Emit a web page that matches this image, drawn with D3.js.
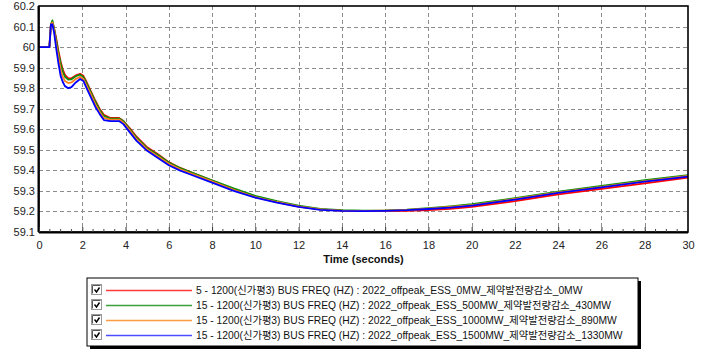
<!DOCTYPE html>
<html>
<head>
<meta charset="utf-8">
<script src="https://cdn.jsdelivr.net/npm/d3@7"></script>
<style>
  html, body { margin: 0; padding: 0; background: #fff; }
  svg { display: block; }
  text { font-family: "Liberation Sans", Arial, "Noto Sans CJK KR", sans-serif; }
</style>
</head>
<body>
<svg id="chart" width="706" height="352"></svg>
<script>
// Simulation time samples (seconds), shared by every run
const time = [0, 0.48, 0.5, 0.55, 0.62, 0.7, 0.8, 0.9, 1.0, 1.1, 1.2, 1.35, 1.5, 1.7, 1.9, 2.05,
  2.2, 2.4, 2.6, 2.8, 3.0, 3.3, 3.7, 3.9, 4.2, 4.5, 5.0, 5.5, 6.0, 6.5, 7, 8, 9, 10, 11, 12,
  13, 14, 15, 16, 17, 18, 19, 20, 22, 24, 26, 28, 30];

// Bus frequency (Hz) at bus 1200 for each ESS case
const freqEss0 = [60.0, 60.0, 60.03, 60.11, 60.12, 60.09, 60.04, 59.98, 59.93, 59.89, 59.865, 59.848,
  59.848, 59.862, 59.87, 59.86, 59.83, 59.785, 59.74, 59.70, 59.67, 59.655, 59.655, 59.64, 59.605,
  59.565, 59.512, 59.478, 59.44, 59.413, 59.392, 59.35, 59.308, 59.272, 59.246, 59.224, 59.21,
  59.204, 59.202, 59.202, 59.203, 59.207, 59.213, 59.222, 59.25, 59.283, 59.31, 59.337, 59.365];
const freqEss500 = [60.0, 60.0, 60.03, 60.11, 60.13, 60.09, 60.03, 59.97, 59.92, 59.88, 59.855, 59.842,
  59.843, 59.858, 59.866, 59.855, 59.825, 59.78, 59.735, 59.695, 59.665, 59.652, 59.652, 59.64, 59.60,
  59.56, 59.508, 59.475, 59.438, 59.412, 59.392, 59.352, 59.312, 59.276, 59.25, 59.228, 59.213,
  59.206, 59.204, 59.205, 59.209, 59.216, 59.225, 59.235, 59.265, 59.297, 59.324, 59.352, 59.377];
const freqEss1000 = [60.0, 60.0, 60.03, 60.11, 60.12, 60.08, 60.01, 59.95, 59.89, 59.855, 59.835, 59.825,
  59.828, 59.845, 59.855, 59.845, 59.812, 59.768, 59.722, 59.685, 59.655, 59.647, 59.647, 59.633, 59.594,
  59.553, 59.502, 59.468, 59.432, 59.406, 59.386, 59.346, 59.305, 59.27, 59.246, 59.225, 59.21,
  59.204, 59.203, 59.204, 59.207, 59.214, 59.222, 59.231, 59.261, 59.293, 59.32, 59.348, 59.373];
const freqEss1500 = [60.0, 60.0, 60.03, 60.11, 60.11, 60.07, 59.99, 59.92, 59.86, 59.83, 59.81, 59.80,
  59.805, 59.828, 59.845, 59.835, 59.80, 59.755, 59.71, 59.675, 59.645, 59.64, 59.64, 59.625, 59.585,
  59.545, 59.495, 59.46, 59.425, 59.40, 59.38, 59.34, 59.30, 59.267, 59.243, 59.222, 59.208,
  59.203, 59.202, 59.203, 59.206, 59.212, 59.219, 59.228, 59.258, 59.29, 59.317, 59.345, 59.37];

const seriesLabels = [
  "5 - 1200(신가평3) BUS FREQ (HZ) : 2022_offpeak_ESS_0MW_제약발전량감소_0MW",
  "15 - 1200(신가평3) BUS FREQ (HZ) : 2022_offpeak_ESS_500MW_제약발전량감소_430MW",
  "15 - 1200(신가평3) BUS FREQ (HZ) : 2022_offpeak_ESS_1000MW_제약발전량감소_890MW",
  "15 - 1200(신가평3) BUS FREQ (HZ) : 2022_offpeak_ESS_1500MW_제약발전량감소_1330MW"
];
const seriesValues = [freqEss0, freqEss500, freqEss1000, freqEss1500];
const seriesColors = ["#ff0000", "#0a8f0a", "#ff7f1e", "#0000ff"];
const legendColors = ["#ff3b3b", "#3aa03a", "#ff9a40", "#4d4dff"];

const xTicks = d3.range(0, 31, 2);
const yTicks = [59.1, 59.2, 59.3, 59.4, 59.5, 59.6, 59.7, 59.8, 59.9, 60, 60.1, 60.2];
const xTitle = "Time (seconds)";

const svg = d3.select("#chart");
const plot = { left: 39, right: 688, top: 6, bottom: 232 };

const x = d3.scaleLinear().domain([0, 30]).range([plot.left, plot.right]);
const y = d3.scaleLinear().domain([59.1, 60.2]).range([plot.bottom, plot.top]);

// dashed grid
const grid = svg.append("g").attr("stroke", "#8c8c8c").attr("stroke-dasharray", "4,3").attr("stroke-width", 1);
grid.selectAll("line.v").data(xTicks.filter(d => d > 0 && d < 30)).join("line")
  .attr("x1", d => Math.round(x(d)) + 0.5).attr("x2", d => Math.round(x(d)) + 0.5)
  .attr("y1", plot.top).attr("y2", plot.bottom);
grid.selectAll("line.h").data(yTicks.filter(d => d > 59.15 && d < 60.15)).join("line")
  .attr("x1", plot.left).attr("x2", plot.right)
  .attr("y1", d => Math.round(y(d)) + 0.5).attr("y2", d => Math.round(y(d)) + 0.5);

// frequency traces
const line = d3.line().x((d, i) => x(time[i])).y(d => y(d));
svg.append("g").selectAll("path").data(seriesValues).join("path")
  .attr("d", line)
  .attr("fill", "none")
  .attr("stroke", (d, i) => seriesColors[i])
  .attr("stroke-width", 1.8)
  .attr("stroke-linejoin", "round");

// frame
svg.append("rect")
  .attr("x", plot.left).attr("y", plot.top)
  .attr("width", plot.right - plot.left).attr("height", plot.bottom - plot.top)
  .attr("fill", "none").attr("stroke", "#000").attr("stroke-width", 1.6);
svg.append("line").attr("x1", plot.left).attr("x2", plot.right)
  .attr("y1", plot.bottom + 0.5).attr("y2", plot.bottom + 0.5).attr("stroke", "#000").attr("stroke-width", 2);
svg.append("line").attr("x1", plot.left - 0.5).attr("x2", plot.left - 0.5)
  .attr("y1", plot.top).attr("y2", plot.bottom).attr("stroke", "#000").attr("stroke-width", 2);

// x axis: major ticks pointing into the plot, minor ticks every 0.5 s
const xAxis = d3.axisBottom(x).tickValues(xTicks).tickSize(-5).tickPadding(9).tickFormat(d3.format("d"));
const gx = svg.append("g").attr("transform", `translate(0,${plot.bottom})`).call(xAxis);
gx.select(".domain").remove();
gx.selectAll(".tick line").attr("stroke", "#333");
gx.selectAll("text").attr("font-size", 11).attr("fill", "#222");
const minor = d3.range(0, 30.01, 0.5).filter(d => d % 2 !== 0);
svg.append("g").selectAll("line").data(minor).join("line")
  .attr("x1", d => x(d)).attr("x2", d => x(d))
  .attr("y1", plot.bottom).attr("y2", plot.bottom - 3)
  .attr("stroke", "#444").attr("stroke-width", 1);

// y axis
const yAxis = d3.axisLeft(y).tickValues(yTicks).tickSize(0).tickPadding(4).tickFormat(d => d3.format(".1f")(d).replace(/\.0$/, ""));
const gy = svg.append("g").attr("transform", `translate(${plot.left},0)`).call(yAxis);
gy.select(".domain").remove();
gy.selectAll("text").attr("font-size", 11).attr("fill", "#222");

svg.append("text")
  .attr("x", x(15)).attr("y", 263)
  .attr("text-anchor", "middle").attr("font-size", 11).attr("font-weight", "bold").attr("fill", "#111")
  .text(xTitle);

// legend with drop shadow and checkboxes
const lg = { x: 87, y: 278, w: 551, h: 68 };
svg.append("rect").attr("x", lg.x + 3).attr("y", lg.y + 3).attr("width", lg.w).attr("height", lg.h).attr("fill", "#000");
svg.append("rect").attr("x", lg.x).attr("y", lg.y).attr("width", lg.w).attr("height", lg.h)
  .attr("fill", "#fff").attr("stroke", "#000").attr("stroke-width", 1);

const rows = svg.append("g").selectAll("g").data(seriesLabels).join("g")
  .attr("transform", (d, i) => `translate(0,${290 + i * 15})`);
rows.append("rect").attr("x", 91.5).attr("y", -5.5).attr("width", 10).attr("height", 10)
  .attr("fill", "#fff").attr("stroke", "#9a9a9a");
rows.append("path").attr("d", "M92.5,3.5 V-4.5 H100.5")
  .attr("fill", "none").attr("stroke", "#555").attr("stroke-width", 1);
rows.append("path").attr("d", "M94.5,-0.5 L96.5,2 L99.5,-2.5")
  .attr("fill", "none").attr("stroke", "#000").attr("stroke-width", 1.4);
rows.append("line").attr("x1", 106).attr("x2", 192).attr("y1", 0.5).attr("y2", 0.5)
  .attr("stroke", (d, i) => legendColors[i]).attr("stroke-width", 1.5);
rows.append("text").attr("x", 196).attr("y", 4).attr("font-size", 10.3).attr("fill", "#111")
  .text(d => d);
</script>
</body>
</html>
